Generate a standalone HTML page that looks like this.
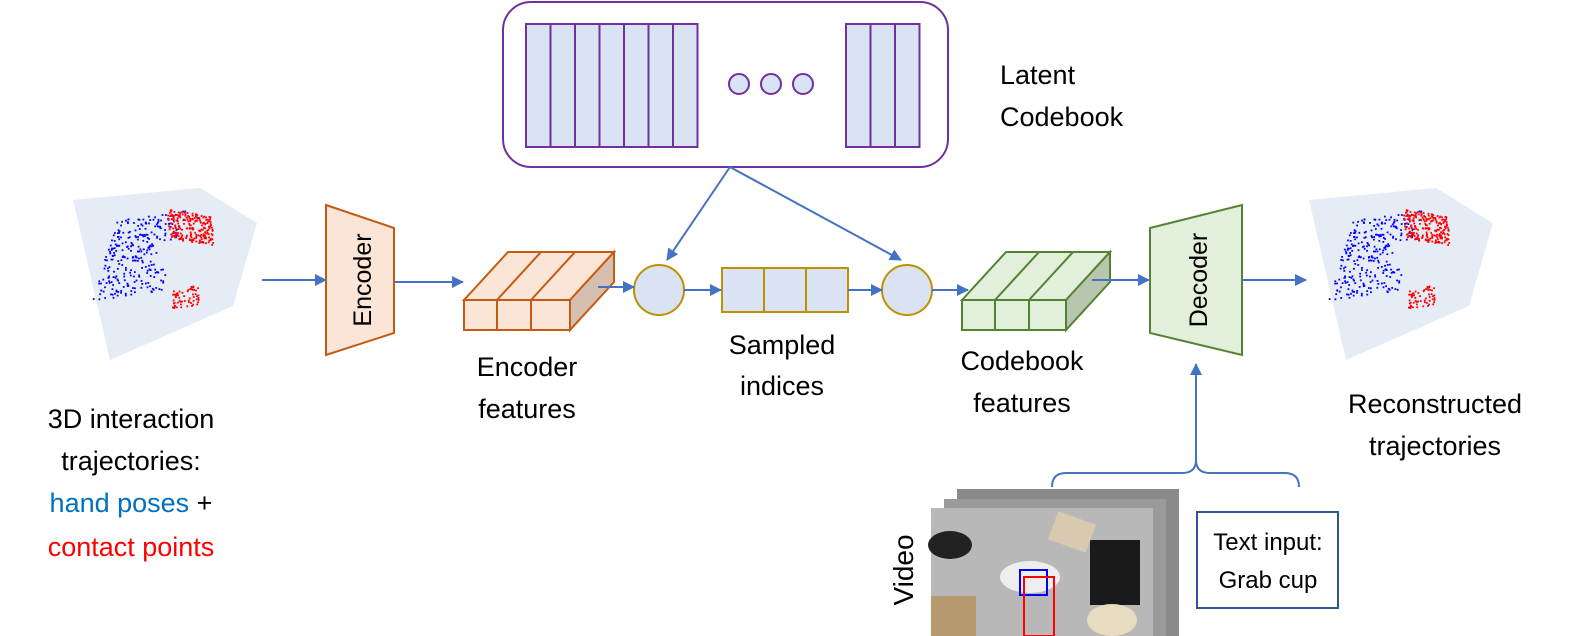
<!DOCTYPE html>
<html><head><meta charset="utf-8"><style>
html,body{margin:0;padding:0;background:#fff;}
svg{display:block;font-family:"Liberation Sans",sans-serif;}
</style></head><body>
<svg id="s" width="1578" height="636" viewBox="0 0 1578 636" xmlns="http://www.w3.org/2000/svg">
<defs>
<marker id="ar" markerWidth="12" markerHeight="12" refX="11" refY="6" orient="auto" markerUnits="userSpaceOnUse">
<path d="M0,0 L12,6 L0,12 z" fill="#4472c4"/></marker>
</defs>
<!-- codebook -->
<rect x="503" y="2" width="445" height="165" rx="28" fill="#fff" stroke="#7030a0" stroke-width="2"/>
<g fill="#dae3f3" stroke="#7030a0" stroke-width="2">
<rect x="526" y="24" width="24.5" height="123"/><rect x="550.5" y="24" width="24.5" height="123"/><rect x="575" y="24" width="24.5" height="123"/><rect x="599.5" y="24" width="24.5" height="123"/><rect x="624" y="24" width="24.5" height="123"/><rect x="648.5" y="24" width="24.5" height="123"/><rect x="673" y="24" width="24.5" height="123"/>
<rect x="846" y="24" width="24.5" height="123"/><rect x="870.5" y="24" width="24.5" height="123"/><rect x="895" y="24" width="24.5" height="123"/>
<circle cx="739" cy="84" r="10"/><circle cx="771" cy="84" r="10"/><circle cx="803" cy="84" r="10"/>
</g>
<text x="1000" y="84" font-size="27">Latent</text>
<text x="1000" y="126" font-size="27">Codebook</text>

<!-- point clouds -->
<g id="pc1"></g><g id="pc2"></g>

<!-- encoder -->
<polygon points="326,205 394,228 394,333 326,355" fill="#fbe5d6" stroke="#c55a11" stroke-width="2"/>
<text transform="translate(371,280) rotate(-90)" font-size="25" text-anchor="middle">Encoder</text>
<!-- encoder features -->
<g fill="#fbe5d6" stroke="#c55a11" stroke-width="2">
<polygon points="464,300 508,252 614,252 570,300"/>
<polygon points="570,300 614,252 614,282 570,330" fill="#d6bfaf"/>
<line x1="497" y1="300" x2="541" y2="252"/><line x1="531" y1="300" x2="575" y2="252"/>
<rect x="464" y="300" width="106" height="30"/>
<line x1="497" y1="300" x2="497" y2="330"/><line x1="531" y1="300" x2="531" y2="330"/>
</g>
<!-- circles -->
<ellipse cx="659" cy="290" rx="25" ry="25" fill="#dae3f3" stroke="#bf9000" stroke-width="2"/>
<ellipse cx="907" cy="290" rx="25" ry="25" fill="#dae3f3" stroke="#bf9000" stroke-width="2"/>
<!-- sampled indices -->
<g fill="#dae3f3" stroke="#bf9000" stroke-width="2">
<rect x="722" y="268" width="126" height="44"/>
<line x1="764" y1="268" x2="764" y2="312"/><line x1="806" y1="268" x2="806" y2="312"/>
</g>
<!-- codebook features -->
<g fill="#e2efda" stroke="#548235" stroke-width="2">
<polygon points="962,300 1006,252 1110,252 1066,300"/>
<polygon points="1066,300 1110,252 1110,282 1066,330" fill="#b8c6ae"/>
<line x1="995" y1="300" x2="1039" y2="252"/><line x1="1029" y1="300" x2="1073" y2="252"/>
<rect x="962" y="300" width="104" height="30"/>
<line x1="995" y1="300" x2="995" y2="330"/><line x1="1029" y1="300" x2="1029" y2="330"/>
</g>
<!-- decoder -->
<polygon points="1150,228 1242,205 1242,355 1150,333" fill="#e2efda" stroke="#548235" stroke-width="2"/>
<text transform="translate(1207,280) rotate(-90)" font-size="25" text-anchor="middle">Decoder</text>

<!-- arrows -->
<g stroke="#4472c4" stroke-width="2" fill="none" marker-end="url(#ar)">
<line x1="262" y1="280" x2="326" y2="280"/>
<line x1="394" y1="282" x2="463" y2="282"/>
<line x1="598" y1="287" x2="634" y2="287"/>
<line x1="684" y1="290" x2="721" y2="290"/>
<line x1="848" y1="290" x2="882" y2="290"/>
<line x1="932" y1="290" x2="968" y2="290"/>
<line x1="1092" y1="280" x2="1149" y2="280"/>
<line x1="1242" y1="280" x2="1306" y2="280"/>
<line x1="730" y1="167" x2="667" y2="260"/>
<line x1="730" y1="167" x2="901" y2="260"/>
<line x1="1196" y1="460" x2="1196" y2="364"/>
</g>
<path d="M1052,487 Q1052,473 1066,473 L1182,473 Q1196,473 1196,460 Q1196,473 1210,473 L1285,473 Q1299,473 1299,487" stroke="#4472c4" stroke-width="2" fill="none"/>

<!-- video -->
<rect x="957" y="489" width="222" height="147" fill="#8a8a8a"/>
<rect x="944" y="499" width="222" height="137" fill="#9a9a9a"/>
<rect x="931" y="508" width="222" height="128" fill="#b8b8b8"/>
<ellipse cx="950" cy="545" rx="22" ry="14" fill="#222"/>
<rect x="1090" y="540" width="50" height="65" fill="#1a1a1a"/>
<rect x="1052" y="517" width="40" height="30" fill="#d8c9b0" transform="rotate(20 1072 532)"/>
<ellipse cx="1030" cy="577" rx="30" ry="16" fill="#eee"/>
<ellipse cx="1112" cy="620" rx="25" ry="16" fill="#e8dcc0"/>
<rect x="931" y="596" width="45" height="40" fill="#b89a70"/>
<rect x="1020" y="570" width="27" height="25" fill="none" stroke="#0000ff" stroke-width="2"/>
<rect x="1024" y="577" width="30" height="59" fill="none" stroke="#ff0000" stroke-width="2"/>
<text transform="translate(913,570) rotate(-90)" font-size="28" text-anchor="middle">Video</text>
<rect x="1197" y="512" width="141" height="96" fill="#fff" stroke="#2f5597" stroke-width="2"/>
<text x="1268" y="550" font-size="24" text-anchor="middle">Text input:</text>
<text x="1268" y="588" font-size="24" text-anchor="middle">Grab cup</text>

<!-- labels -->
<g font-size="27" text-anchor="middle">
<text x="527" y="376">Encoder</text><text x="527" y="418">features</text>
<text x="782" y="354">Sampled</text><text x="782" y="395">indices</text>
<text x="1022" y="370">Codebook</text><text x="1022" y="412">features</text>
<text x="1435" y="413">Reconstructed</text><text x="1435" y="455">trajectories</text>
<text x="131" y="428">3D interaction</text><text x="131" y="470">trajectories:</text>
<text x="131" y="512"><tspan fill="#0070c0">hand poses</tspan> +</text>
<text x="131" y="556" fill="#ff0000">contact points</text>
</g>
</svg>
<script>
function cloud(id,ox,oy){
 var g=document.getElementById(id),h="";
 h+='<polygon points="'+(ox+73)+','+(oy+212)+' '+(ox+200)+','+(oy+200)+' '+(ox+257)+','+(oy+235)+' '+(ox+233)+','+(oy+318)+' '+(ox+110)+','+(oy+372)+'" fill="#e5ecf6"/>';
 var s=7;function r(){s=(s*9301+49297)%233280;return s/233280;}
 for(var i=0;i<300;i++){var u=r(),v=r();
  var x=ox+92+u*70+ (1-v)*40*0.6, y=oy+232+v*80-u*10;
  if(u>0.75&&v>0.35&&v<0.7)continue;
  h+='<rect x="'+x.toFixed(1)+'" y="'+y.toFixed(1)+'" width="1.8" height="1.8" fill="#0000ff"/>';}
 for(var i=0;i<220;i++){var u=r(),v=r();var x=ox+165+u*45+v*5,y=oy+220+v*30+u*8;
  h+='<rect x="'+x.toFixed(1)+'" y="'+y.toFixed(1)+'" width="1.8" height="1.8" fill="#ff0000"/>';}
 for(var i=0;i<60;i++){var u=r(),v=r();var x=ox+172+u*26,y=oy+302+v*20-u*6;
  h+='<rect x="'+x.toFixed(1)+'" y="'+y.toFixed(1)+'" width="1.8" height="1.8" fill="#ff0000"/>';}
 g.innerHTML=h;
}
cloud("pc1",0,-12);cloud("pc2",1236,-12);
</script>
</body></html>
